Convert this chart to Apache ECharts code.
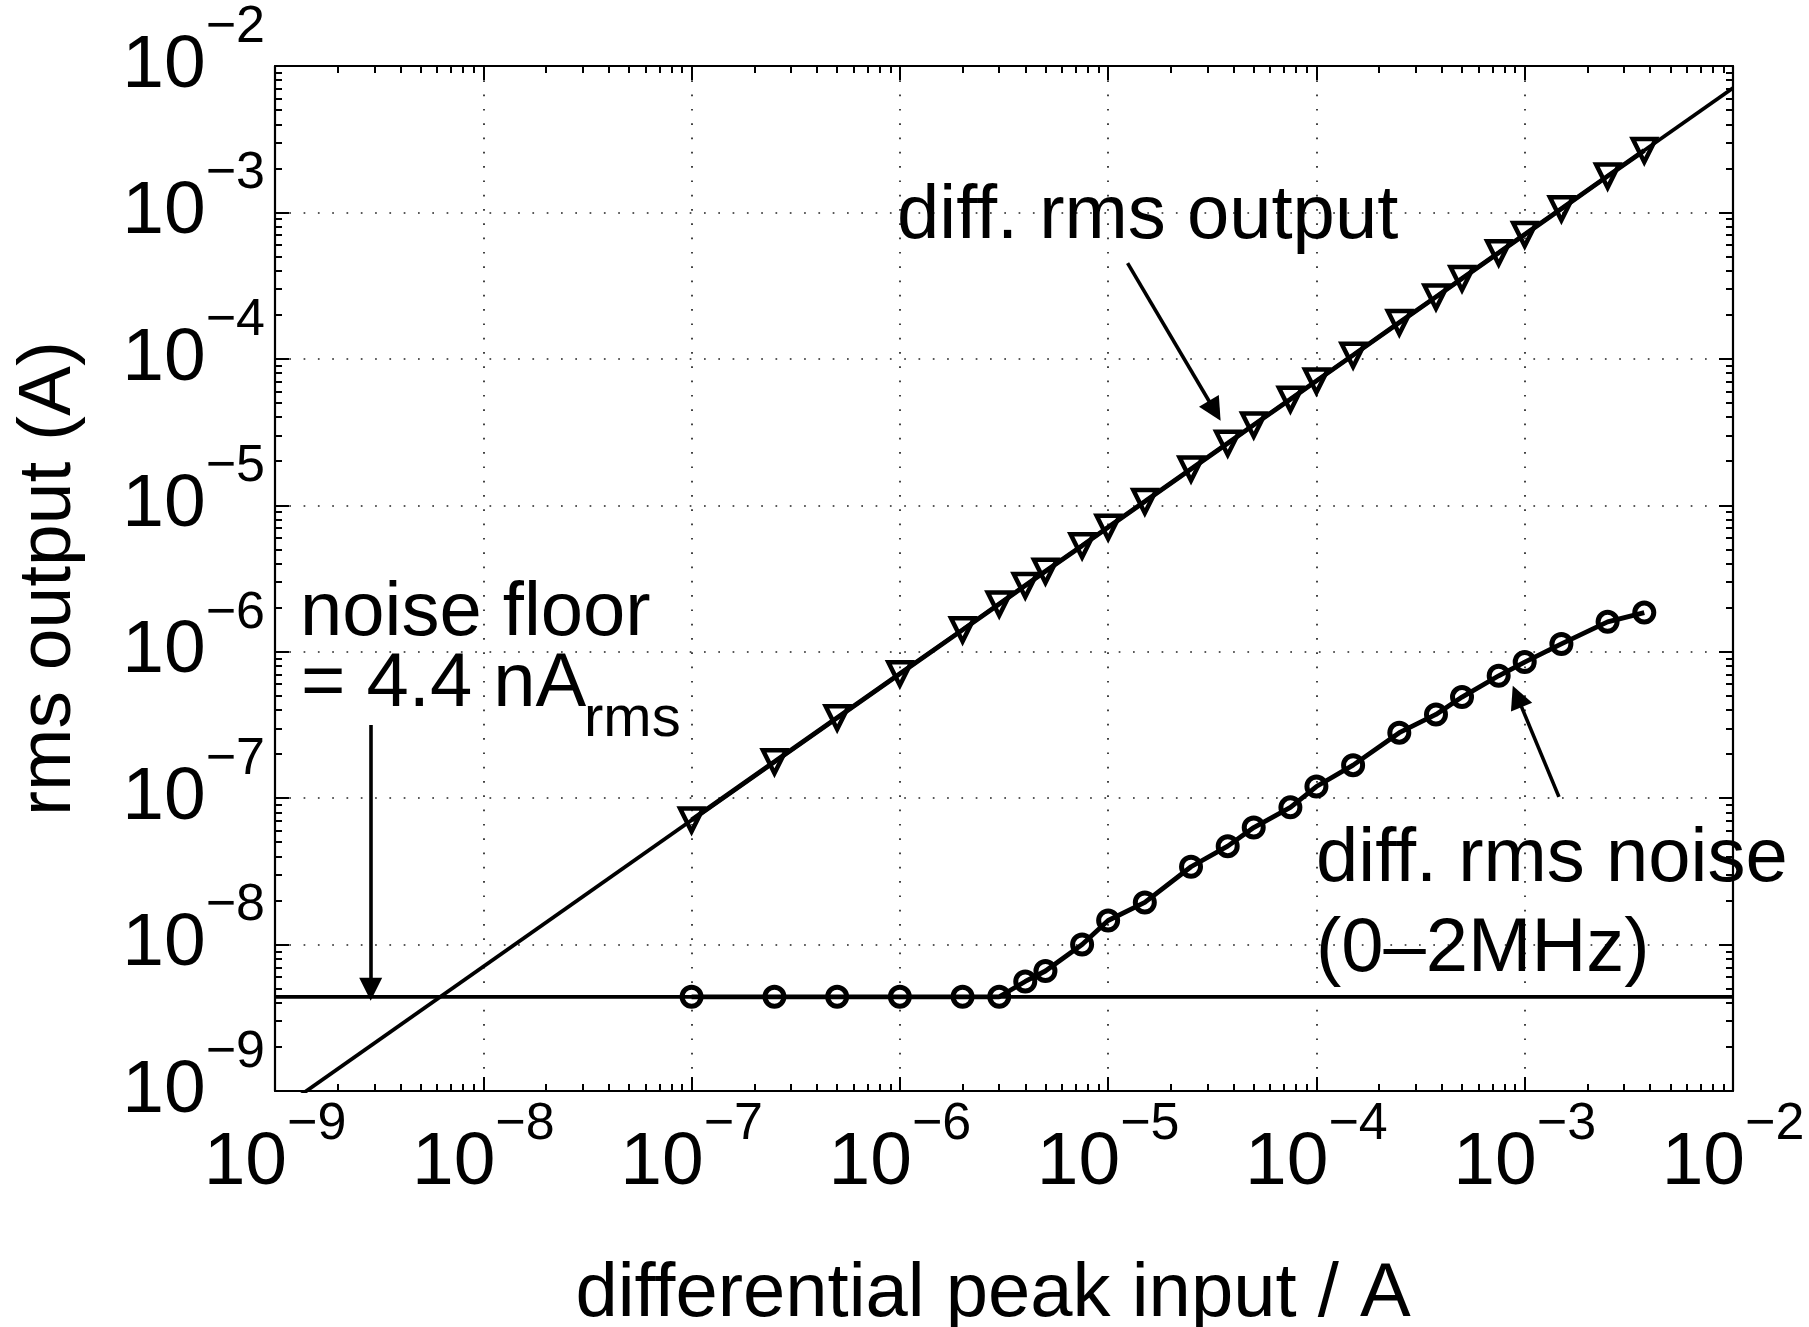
<!DOCTYPE html>
<html><head><meta charset="utf-8">
<script src="https://cdn.jsdelivr.net/npm/echarts@6/dist/echarts.min.js"></script>
<style>html,body{margin:0;padding:0;background:#fff}#c{width:1809px;height:1327px}</style>
</head><body><div id="c"></div>
<script>
// ---------- data ----------
const inputPeak = [1e-7, 2.5e-7, 5e-7, 1e-6, 2e-6, 3e-6, 4e-6, 5e-6, 7.5e-6, 1e-5, 1.5e-5, 2.5e-5, 3.75e-5, 5e-5, 7.5e-5, 1e-4, 1.5e-4, 2.5e-4, 3.75e-4, 5e-4, 7.5e-4, 1e-3, 1.5e-3, 2.5e-3, 3.75e-3];
const rmsOutput = [7.1e-8, 1.77e-7, 3.54e-7, 7.07e-7, 1.41e-6, 2.12e-6, 2.83e-6, 3.54e-6, 5.3e-6, 7.07e-6, 1.06e-5, 1.77e-5, 2.65e-5, 3.54e-5, 5.3e-5, 7.07e-5, 1.06e-4, 1.77e-4, 2.65e-4, 3.54e-4, 5.3e-4, 7.07e-4, 1.06e-3, 1.77e-3, 2.65e-3];
const rmsNoise = [4.4e-9, 4.4e-9, 4.4e-9, 4.4e-9, 4.4e-9, 4.4e-9, 5.6e-9, 6.6e-9, 1.0e-8, 1.46e-8, 1.94e-8, 3.4e-8, 4.7e-8, 6.3e-8, 8.65e-8, 1.2e-7, 1.68e-7, 2.8e-7, 3.73e-7, 4.9e-7, 6.85e-7, 8.5e-7, 1.13e-6, 1.6e-6, 1.85e-6];
const theoryX = [1e-9, 1e-2];
const theoryY = [7.07e-10, 7.07e-3];
const noiseFloorX = [1e-9, 1e-2];
const noiseFloorY = [4.4e-9, 4.4e-9];
const axisMin = 1e-9, axisMax = 1e-2;
const decadeExponents = [-9, -8, -7, -6, -5, -4, -3];
const minorMultipliers = [2, 3, 4, 5, 6, 7, 8, 9];
const xTitle = 'differential peak input / A';
const yTitle = 'rms output (A)';
const arrowOutput = [[1.24e-5, 4.51e-4], [3.25e-5, 4.42e-5]];
const arrowNoise = [[1.46e-3, 1.02e-7], [9.2e-4, 4.95e-7]];
const arrowFloor = [[2.88e-9, 3.16e-7], [2.88e-9, 4.95e-9]];

// ---------- build ----------
const FONT = '"Liberation Sans", Arial, Helvetica, sans-serif';
const BLACK = '#000';
const pairs = (xs, ys) => xs.map((x, i) => [x, ys[i]]);
const minorVals = [];
decadeExponents.forEach(e => minorMultipliers.forEach(m => minorVals.push(e + Math.log10(m))));
const lmin = Math.log10(axisMin), lmax = Math.log10(axisMax);

const rich = {
  b: {fontSize: 75, lineHeight: 75, fontFamily: FONT, color: BLACK},
  s: {fontSize: 52, lineHeight: 48, fontFamily: FONT, color: BLACK, padding: [0, 0, 77, 0]}
};
function decadeLabel(v) {
  const e = Math.round(Math.log10(v));
  return '{b|10}{s|' + (e < 0 ? '\u2212' : '') + Math.abs(e) + '}';
}
const tickStyle = {color: BLACK, width: 2};
const frameStyle = {color: BLACK, width: 2.2};
const gridStyle = {color: '#222', width: 1.7, type: [1.7, 12.6]};

function logAxis(pos, main) {
  const a = {
    type: 'log', logBase: 10, min: axisMin, max: axisMax, splitNumber: 7, position: pos,
    axisLine: {show: true, onZero: false, lineStyle: frameStyle},
    axisTick: {show: true, inside: true, length: 14, lineStyle: tickStyle},
    minorTick: {show: false},
    axisLabel: {show: false},
    splitLine: {show: false},
    silent: true
  };
  if (main) {
    a.axisLabel = {show: true, formatter: decadeLabel, rich: rich, margin: (pos === 'bottom' ? 35 : 10)};
    a.splitLine = {show: true, lineStyle: gridStyle};
  }
  return a;
}
function minorAxis(pos) {
  return {
    type: 'value', min: lmin, max: lmax, position: pos,
    axisLine: {show: false, onZero: false},
    axisTick: {show: true, inside: true, length: 7, customValues: minorVals, lineStyle: tickStyle},
    axisLabel: {show: false}, splitLine: {show: false}, minorTick: {show: false}, silent: true
  };
}
const xMain = logAxis('bottom', true);
xMain.name = xTitle; xMain.nameLocation = 'middle'; xMain.nameGap = 166;
xMain.nameTextStyle = {fontSize: 76, fontFamily: FONT, color: BLACK, padding: [0, 22, 0, 0]};
const yMain = logAxis('left', true);
yMain.name = yTitle; yMain.nameLocation = 'middle'; yMain.nameGap = 188;
yMain.nameTextStyle = {fontSize: 75, fontFamily: FONT, color: BLACK};

function txt(text, x, y, size) {
  return {type: 'text', x: x, y: y, silent: true, z: 100,
    style: {text: text, fontSize: size, fontFamily: FONT, fill: BLACK,
      align: 'left', verticalAlign: 'middle', textAlign: 'left', textVerticalAlign: 'middle'}};
}

const option = {
  animation: false,
  backgroundColor: '#fff',
  grid: {left: 275, right: 76, top: 66, bottom: 236, containLabel: false, outerBoundsMode: 'none'},
  xAxis: [xMain, logAxis('top', false), minorAxis('bottom'), minorAxis('top')],
  yAxis: [yMain, logAxis('right', false), minorAxis('left'), minorAxis('right')],
  series: [
    {type: 'line', name: 'theory', xAxisIndex: 0, yAxisIndex: 0, data: pairs(theoryX, theoryY),
     showSymbol: false, symbol: 'none', clip: true, lineStyle: {color: BLACK, width: 3.8}, silent: true,
     markLine: {silent: true, symbol: ['none', 'triangle'], symbolSize: 23,
       lineStyle: {color: BLACK, width: 3.6, type: 'solid'}, label: {show: false},
       emphasis: {disabled: true}, animation: false,
       data: [arrowOutput, arrowNoise, arrowFloor].map(a => [{coord: a[0]}, {coord: a[1]}])}},
    {type: 'line', name: 'noise floor', xAxisIndex: 0, yAxisIndex: 0, data: pairs(noiseFloorX, noiseFloorY),
     showSymbol: false, symbol: 'none', clip: true, lineStyle: {color: BLACK, width: 3.8}, silent: true},
    {type: 'line', name: 'diff. rms output', xAxisIndex: 0, yAxisIndex: 0, data: pairs(inputPeak, rmsOutput),
     symbol: 'triangle', symbolRotate: 180, symbolSize: 23, showAllSymbol: true,
     itemStyle: {color: 'rgba(0,0,0,0)', borderColor: BLACK, borderWidth: 4.5},
     lineStyle: {color: BLACK, width: 4.8}, silent: true},
    {type: 'line', name: 'diff. rms noise', xAxisIndex: 0, yAxisIndex: 0, data: pairs(inputPeak, rmsNoise),
     symbol: 'circle', symbolSize: 19, showAllSymbol: true,
     itemStyle: {color: 'rgba(0,0,0,0)', borderColor: BLACK, borderWidth: 5},
     lineStyle: {color: BLACK, width: 4.8}, silent: true}
  ],
  graphic: [
    txt('diff. rms output', 897, 217, 76),
    txt('noise floor', 300, 614, 76),
    txt('= 4.4 nA', 301, 685, 76),
    txt('rms', 584, 720, 58),
    txt('diff. rms noise', 1316, 860, 76),
    txt('(0\u20132MHz)', 1316, 950, 76)
  ]
};
const chart = echarts.init(document.getElementById('c'), null, {renderer: 'canvas'});
chart.setOption(option);
</script>
</body></html>
